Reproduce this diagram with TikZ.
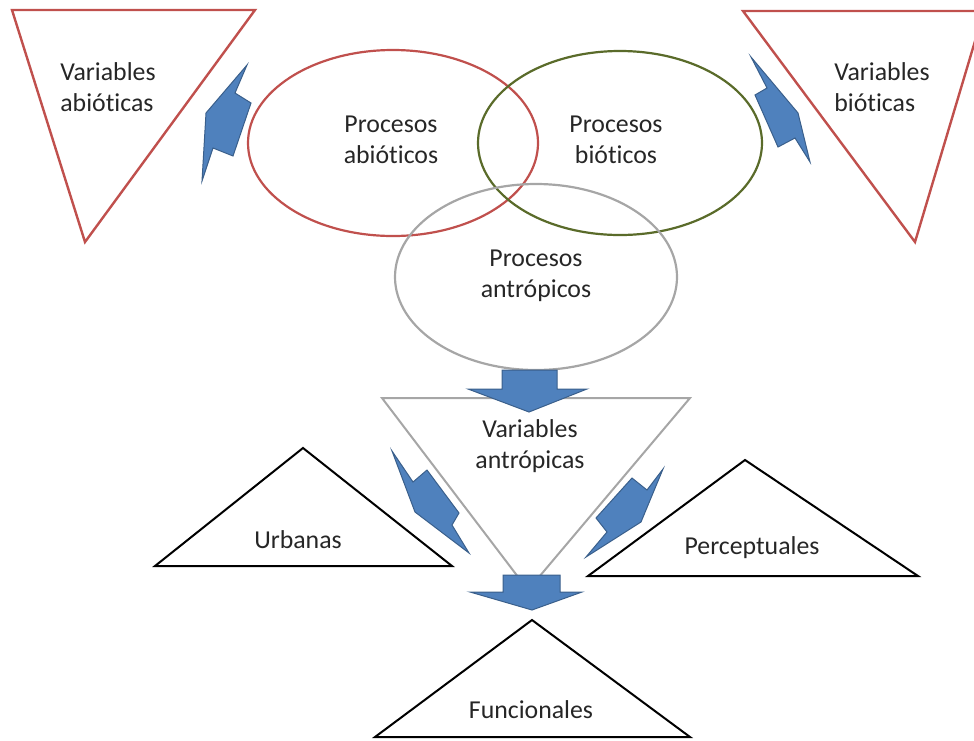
\documentclass[tikz,border=0pt]{standalone}
\usepackage{fontspec}
\setmainfont{Carlito}[Ligatures=CommonOff]
\definecolor{redln}{HTML}{C0504D}
\definecolor{greenln}{HTML}{5A6B2A}
\definecolor{grayln}{HTML}{A6A6A6}
\definecolor{bluefill}{HTML}{4F81BD}
\definecolor{blueln}{HTML}{3A5F8B}
\tikzset{
  redtri/.style={draw=redln, line width=2.4pt, line join=miter},
  blacktri/.style={draw=black, line width=2pt, line join=miter},
  graytri/.style={draw=grayln, line width=2pt, line join=miter},
  bolt/.style={fill=bluefill, draw=blueln, line width=1pt, line join=miter},
  lbl/.style={font=\fontsize{25.8}{31}\selectfont, text=black!85, inner sep=0pt},
  ell/.style={line width=2.2pt}
}
\begin{document}
\begin{tikzpicture}[x=1pt,y=-1pt]
\useasboundingbox (0,0) rectangle (974,740);
\clip (0,0) rectangle (974,740);
% big triangles
\draw[redtri] (12,10) -- (255,10) -- (85,242) -- cycle;
\draw[redtri] (743,11) -- (984,11) -- (915,242) -- cycle;
\draw[graytri] (382,398) -- (690,398) -- (528,590) -- cycle;
\draw[blacktri] (303,448) -- (452,566) -- (155,566) -- cycle;
\draw[blacktri] (745,460) -- (918,576) -- (588,576) -- cycle;
\draw[blacktri] (532,620) -- (690,737) -- (375,737) -- cycle;
% ellipses
\draw[ell, redln] (393,143) ellipse [x radius=145, y radius=93];
\draw[ell, greenln] (620,143) ellipse [x radius=142, y radius=92];
\draw[ell, grayln] (536,277) ellipse [x radius=141, y radius=93];
% bolt arrows
\draw[bolt] (247,65) -- (235,93) -- (251,103) -- (233,156) -- (213,148) -- (202,181) -- (206,113) -- cycle;
\draw[bolt] (751,57) -- (767,88) -- (755,95) -- (778,147) -- (795,138) -- (810,162) -- (798,113) -- cycle;
\draw[bolt] (392,451) -- (413,482) -- (427,470) -- (459,513) -- (452,525) -- (469,553) -- (415,512) -- cycle;
\draw[bolt] (663,469) -- (647,490) -- (632,478) -- (596,518) -- (607,532) -- (586,557) -- (641,522) -- cycle;
% down arrows
\draw[bolt] (502,370) -- (557,370) -- (557,389) -- (587,389) -- (529,412) -- (468,389) -- (502,389) -- cycle;
\draw[bolt] (503,575) -- (560,575) -- (560,592) -- (582,592) -- (532,610) -- (470,592) -- (503,592) -- cycle;
% labels
\node[lbl, align=left] (vab) at (108,87) {Variables\\abióticas};
\node[lbl, align=left] (vbi) at (882,87) {Variables\\bióticas};
\node[lbl, align=center] (pab) at (391,140) {Procesos\\abióticos};
\node[lbl, align=center] (pbi) at (616,140) {Procesos\\bióticos};
\node[lbl, align=center] (pan) at (536,276) {Procesos\\antrópicos};
\node[lbl, align=center] (van) at (530,446) {Variables\\antrópicas};
\node[lbl] (urb) at (298,540) {Urbanas};
\node[lbl] (per) at (752,548) {Perceptuales};
\node[lbl] (fun) at (531,710) {Funcionales};
\end{tikzpicture}
\end{document}
